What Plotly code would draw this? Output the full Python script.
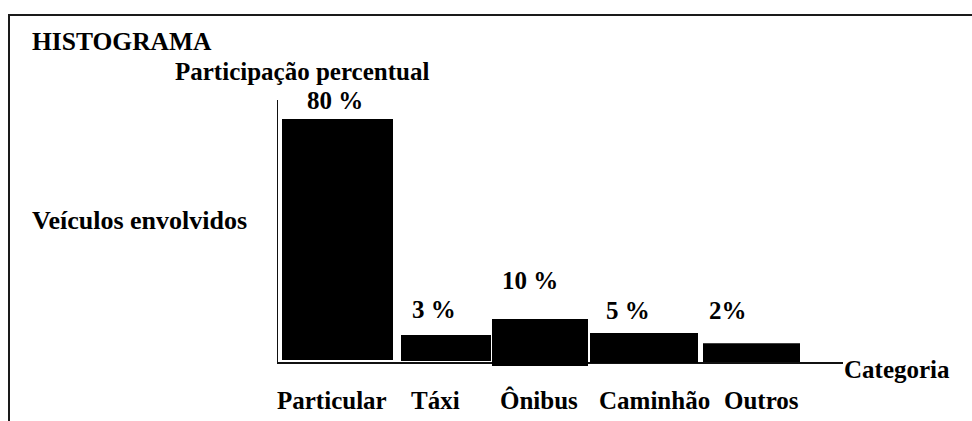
import plotly.graph_objects as go

# data
categories = ["Particular", "Táxi", "Ônibus", "Caminhão", "Outros"]
percent_labels = ["80 %", "3 %", "10 %", "5 %", "2%"]
bar_tops = [81.1, 9.3, 14.6, 10.0, 6.6]      # drawn height of each bar (y units)
bar_bases = [1.0, 0.7, -1.0, 0.0, 0.3]

# layout of the variable-width classes (x units = px of plot area)
bar_gaps = [5, 8, 1, 2, 5]
bar_widths = [111, 90, 96, 108, 97]
pct_label_x = [58, 157, 253, 351, 451]
pct_label_py = [100, 309, 280, 310, 310]
cat_label_x = [55, 158, 261.5, 377, 484]

W, H = 972, 421
L, R, T, B = 277, 843, 100, 368
X_MAX = R - L
PX_PER_UNIT = 3.01
Y_MIN = -(B - 363) / PX_PER_UNIT
Y_MAX = (363 - T) / PX_PER_UNIT

FONT = "'Liberation Serif', 'Times New Roman', serif"
FS = 25


def py(p):
    return (B - p) / (B - T)


def px(p):
    return (p - L) / (R - L)


centers = []
pos = 0
for g, w in zip(bar_gaps, bar_widths):
    pos += g
    centers.append(pos + w / 2)
    pos += w

fig = go.Figure(
    go.Bar(
        x=centers,
        y=[t - b for t, b in zip(bar_tops, bar_bases)],
        base=bar_bases,
        width=bar_widths,
        marker=dict(color="black", line=dict(width=0)),
        hoverinfo="skip",
    )
)

ann = []
for x, p, t in zip(pct_label_x, pct_label_py, percent_labels):
    ann.append(dict(x=x, xref="x", y=py(p), yref="paper", text=f"<b>{t}</b>"))
for x, c in zip(cat_label_x, categories):
    ann.append(dict(x=x, xref="x", y=py(400), yref="paper", text=f"<b>{c}</b>"))
ann += [
    dict(x=px(30), y=py(41), xref="paper", yref="paper", xanchor="left",
         text="<b>HISTOGRAMA</b>", font=dict(size=25.5)),
    dict(x=px(173), y=py(71), xref="paper", yref="paper", xanchor="left",
         text="<b>Participação percentual</b>"),
    dict(x=px(30), y=py(220), xref="paper", yref="paper", xanchor="left",
         text="<b>Veículos envolvidos</b>", font=dict(size=26)),
    dict(x=px(842), y=py(369), xref="paper", yref="paper", xanchor="left",
         text="<b>Categoria</b>"),
]
for a in ann:
    a.setdefault("xanchor", "center")
    a.update(yanchor="middle", showarrow=False)
    a.setdefault("font", {})
    a["font"] = dict(family=FONT, color="black", size=a["font"].get("size", FS))

fig.update_layout(
    width=W,
    height=H,
    margin=dict(l=L, r=W - R, t=T, b=H - B, pad=0),
    paper_bgcolor="white",
    plot_bgcolor="white",
    showlegend=False,
    annotations=ann,
    xaxis=dict(range=[0, X_MAX], showgrid=False, zeroline=False,
               showticklabels=False, ticks="", showline=False, fixedrange=True),
    yaxis=dict(range=[Y_MIN, Y_MAX], showgrid=False, zeroline=True,
               zerolinecolor="#111", zerolinewidth=2,
               showticklabels=False, ticks="", showline=False, fixedrange=True),
    shapes=[
        # vertical axis line
        dict(type="line", xref="x", yref="y", x0=0, x1=0, y0=0, y1=Y_MAX,
             line=dict(color="#111", width=2), layer="below"),
        # outer frame (only top and left edges fall inside the page)
        dict(type="rect", xref="paper", yref="paper",
             x0=px(9), x1=px(W + 20), y0=py(15), y1=py(H + 20),
             line=dict(color="#1a1a1a", width=2)),
    ],
)

# drop the page's default body margin so the figure sits at the window origin
fig.write_html(
    "out.html",
    config=dict(displayModeBar=False),
    post_script="document.body.style.margin='0';document.body.style.overflow='hidden';",
)
